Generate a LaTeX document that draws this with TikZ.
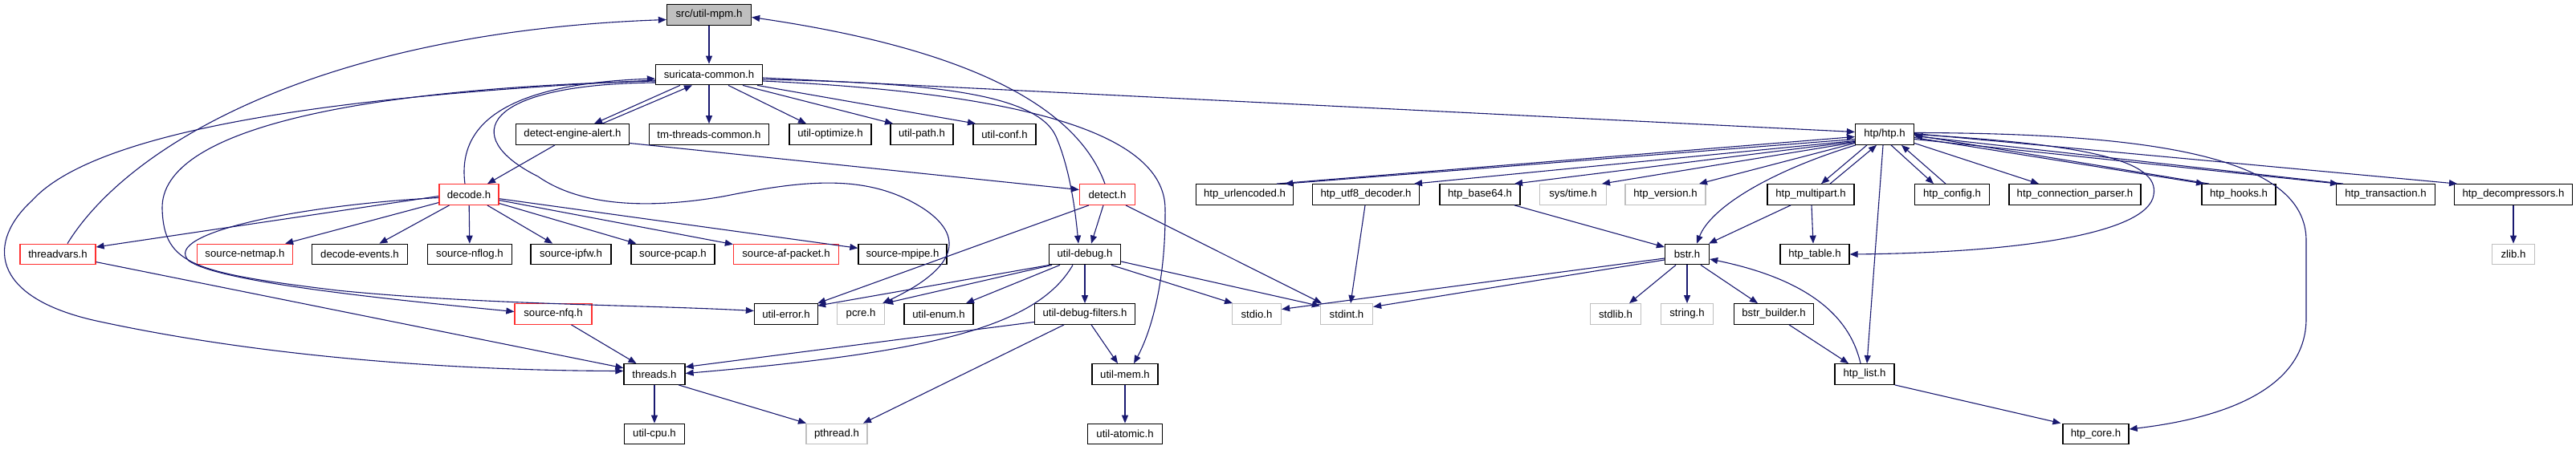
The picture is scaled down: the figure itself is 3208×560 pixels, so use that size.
\documentclass[tikz,border=0pt]{standalone}
\usepackage{fontspec}
\setmainfont{Liberation Sans}
\usetikzlibrary{arrows.meta}
\definecolor{eblue}{RGB}{25,25,112}
\definecolor{ngray}{RGB}{191,191,191}
\definecolor{nred}{RGB}{255,48,48}
\begin{document}
\begin{tikzpicture}[x=1pt,y=-1pt,
 box/.style={rectangle,draw=black,fill=white,line width=1.3pt,minimum height=25.5pt,inner sep=0pt,font=\fontsize{13.2}{15}\selectfont},
 nr/.style={box,draw=nred},
 ng/.style={box,draw=ngray},
 nm/.style={box,fill=ngray},
 edg/.style={draw=eblue,line width=1.1pt,-{Triangle[length=10pt,width=8pt]}}]
\useasboundingbox (0,0) rectangle (3208,560);
% row 1
\node[nm,minimum width=105pt] (mpm) at (883,18.5) {src/util-mpm.h};
% row 2
\node[box,minimum width=133pt] (sc) at (883,93) {suricata-common.h};
% row 3
\node[box,minimum width=141pt] (dea) at (713,167.5) {detect-engine-alert.h};
\node[box,minimum width=149pt] (tmc) at (883,167.5) {tm-threads-common.h};
\node[box,minimum width=102pt] (uopt) at (1034,167.5) {util-optimize.h};
\node[box,minimum width=78pt] (upath) at (1148,167.5) {util-path.h};
\node[box,minimum width=78pt] (uconf) at (1251,167.5) {util-conf.h};
\node[box,minimum width=73pt] (htp) at (2347,167.5) {htp/htp.h};
% row 4
\node[nr,minimum width=74pt] (decode) at (584,242.5) {decode.h};
\node[nr,minimum width=69pt] (detect) at (1379,242.5) {detect.h};
\node[box,minimum width=121pt] (urlenc) at (1550,242.5) {htp\_urlencoded.h};
\node[box,minimum width=133pt] (utf8) at (1701,242.5) {htp\_utf8\_decoder.h};
\node[box,minimum width=100pt] (b64) at (1843,242.5) {htp\_base64.h};
\node[ng,minimum width=83pt] (systime) at (1959,242.5) {sys/time.h};
\node[ng,minimum width=100pt] (hver) at (2074,242.5) {htp\_version.h};
\node[box,minimum width=108pt] (mpart) at (2255,242.5) {htp\_multipart.h};
\node[box,minimum width=93pt] (hcfg) at (2431,242.5) {htp\_config.h};
\node[box,minimum width=164pt] (hcp) at (2584,242.5) {htp\_connection\_parser.h};
\node[box,minimum width=92pt] (hooks) at (2788,242.5) {htp\_hooks.h};
\node[box,minimum width=123pt] (htx) at (2971,242.5) {htp\_transaction.h};
\node[box,minimum width=147pt] (hdec) at (3130,242.5) {htp\_decompressors.h};
% row 5
\node[nr,minimum width=94pt] (tv) at (72,317) {threadvars.h};
\node[nr,minimum width=119pt] (netmap) at (305,317) {source-netmap.h};
\node[box,minimum width=119pt] (devents) at (448,317) {decode-events.h};
\node[box,minimum width=105pt] (nflog) at (585,317) {source-nflog.h};
\node[box,minimum width=100pt] (ipfw) at (711,317) {source-ipfw.h};
\node[box,minimum width=104pt] (pcap) at (838,317) {source-pcap.h};
\node[nr,minimum width=131pt] (afp) at (979,317) {source-af-packet.h};
\node[box,minimum width=110pt] (mpipe) at (1124,317) {source-mpipe.h};
\node[box,minimum width=89pt] (udebug) at (1351,317) {util-debug.h};
\node[box,minimum width=55pt] (bstr) at (2101,317) {bstr.h};
\node[box,minimum width=86pt] (htable) at (2260,317) {htp\_table.h};
\node[ng,minimum width=53pt] (zlib) at (3130,317) {zlib.h};
% row 6
\node[nr,minimum width=96pt] (nfq) at (689,391.5) {source-nfq.h};
\node[box,minimum width=79pt] (uerr) at (979,391.5) {util-error.h};
\node[ng,minimum width=59pt] (pcre) at (1072,391.5) {pcre.h};
\node[box,minimum width=86pt] (uenum) at (1169,391.5) {util-enum.h};
\node[box,minimum width=125pt] (udf) at (1351,391.5) {util-debug-filters.h};
\node[ng,minimum width=61pt] (stdio) at (1565,391.5) {stdio.h};
\node[ng,minimum width=65pt] (stdint) at (1677,391.5) {stdint.h};
\node[ng,minimum width=63pt] (stdlib) at (2012,391.5) {stdlib.h};
\node[ng,minimum width=65pt] (string) at (2101,391.5) {string.h};
\node[box,minimum width=99pt] (bbuild) at (2209,391.5) {bstr\_builder.h};
% row 7
\node[box,minimum width=76pt] (threads) at (815,466.5) {threads.h};
\node[box,minimum width=82pt] (umem) at (1401,466.5) {util-mem.h};
\node[box,minimum width=74pt] (hlist) at (2322,466.5) {htp\_list.h};
% row 8
\node[box,minimum width=75pt] (ucpu) at (815,541) {util-cpu.h};
\node[ng,minimum width=76pt] (pthread) at (1042,541) {pthread.h};
\node[box,minimum width=93pt] (uatomic) at (1401,541) {util-atomic.h};
\node[box,minimum width=82pt] (hcore) at (2610,541) {htp\_core.h};

% ---- edges ----
\draw[edg] (mpm) -- (sc);
\draw[edg] ([xshift=12pt]tv.north) .. controls (160,180) and (400,40) .. ([yshift=-6pt]mpm.west);
\draw[edg] ([xshift=-3pt]detect.north) .. controls (1340,130) and (1200,60) .. ([yshift=-3pt]mpm.east);
\draw[edg] (sc) -- (tmc);
\draw[edg] ([xshift=24pt]sc.south) -- ([xshift=-30pt]uopt.north);
\draw[edg] ([xshift=42pt]sc.south) -- ([xshift=-36pt]upath.north);
\draw[edg] ([xshift=60pt]sc.south) -- ([xshift=-36pt]uconf.north);
\draw[edg] ([yshift=-4pt]sc.east) -- ([yshift=3pt]htp.west);
\draw[edg] ([xshift=-36pt]sc.south) -- ([xshift=27pt]dea.north);
\draw[edg] ([xshift=37pt]dea.north) -- ([xshift=-21pt]sc.south);
\draw[edg] ([yshift=-6pt]sc.east) .. controls (1150,103) and (1290,115) .. (1315,170) .. controls (1330,205) and (1338,250) .. ([xshift=-8pt]udebug.north);
\draw[edg] ([yshift=-8pt]sc.east) .. controls (1250,115) and (1450,160) .. (1451,260) .. controls (1452,360) and (1430,420) .. ([xshift=11pt]umem.north);
\draw[edg] ([yshift=-7pt]sc.west) .. controls (500,115) and (130,150) .. (40,250) .. controls (-15,300) and (-15,370) .. (120,400) .. controls (350,450) and (600,462) .. ([yshift=4pt]threads.west);
\draw[edg] ([yshift=-8pt]sc.west) .. controls (450,110) and (200,160) .. (202,260) .. controls (204,330) and (240,340) .. (420,362) .. controls (600,380) and (800,380) .. ([yshift=4pt]uerr.west);
\draw[edg] ([yshift=-10pt]sc.west) .. controls (600,105) and (570,170) .. (670,220) .. controls (720,255) and (800,262) .. (900,245) .. controls (1000,225) and (1080,215) .. (1150,260) .. controls (1210,300) and (1180,340) .. ([xshift=-3pt]pcre.north east);
\draw[edg] ([xshift=-5pt]decode.north) .. controls (570,160) and (620,105) .. ([yshift=-5pt]sc.west);
\draw[edg] ([xshift=-22pt]dea.south) -- ([xshift=23pt]decode.north);
\draw[edg] ([yshift=-11pt]dea.east) -- ([yshift=6pt]detect.west);
% decode fan
\draw[edg] ([yshift=-2pt]decode.west) -- ([yshift=9pt]tv.east);
\draw[edg] ([yshift=-4pt]decode.west) .. controls (380,255) and (200,290) .. (235,325) .. controls (270,350) and (450,370) .. ([yshift=3pt]nfq.west);
\draw[edg] (decode) -- (netmap);
\draw[edg] (decode) -- (devents);
\draw[edg] (decode) -- (nflog);
\draw[edg] (decode) -- (ipfw);
\draw[edg] (decode) -- (pcap);
\draw[edg] (decode) -- (afp);
\draw[edg] (decode) -- (mpipe);
\draw[edg] (tv) -- (threads);
\draw[edg] (nfq) -- (threads);
% detect
\draw[edg] ([xshift=-5pt]detect.south) -- ([xshift=8pt]udebug.north);
\draw[edg] ([xshift=-23pt]detect.south) -- ([xshift=-1pt]uerr.north east);
\draw[edg] ([xshift=23pt]detect.south) -- ([xshift=-31pt]stdint.north);
% util-debug
\draw[edg] ([xshift=1pt]udebug.south west) -- ([xshift=-1pt,yshift=-3pt]uerr.north east);
\draw[edg] ([xshift=-41pt]udebug.south) -- (pcre.north east);
\draw[edg] ([xshift=-31pt]udebug.south) -- ([xshift=34pt]uenum.north);
\draw[edg] (udebug) -- (udf);
\draw[edg] ([xshift=-15pt]udebug.south) .. controls (1290,410) and (1150,440) .. ([yshift=1pt]threads.east);
\draw[edg] ([xshift=33pt]udebug.south) -- ([xshift=-30pt]stdio.north);
\draw[edg] ([yshift=-9pt]udebug.east) -- ([yshift=10pt]stdint.west);
\draw[edg] ([yshift=-10pt]udf.west) -- ([yshift=9pt]threads.east);
\draw[edg] ([xshift=-26pt]udf.south) -- ([xshift=33pt]pthread.north);
\draw[edg] ([xshift=8pt]udf.south) -- ([xshift=-9pt]umem.north);
\draw[edg] (umem) -- (uatomic);
\draw[edg] (threads) -- (ucpu);
\draw[edg] ([xshift=30pt]threads.south) -- ([xshift=-38pt]pthread.north);
% htp
\draw[edg] ([yshift=-6pt]htp.west) -- ([xshift=50pt]urlenc.north);
\draw[edg] ([xshift=40pt]urlenc.north) -- ([yshift=-3pt]htp.west);
\draw[edg] ([yshift=-8pt]htp.west) -- ([xshift=60pt]utf8.north);
\draw[edg] ([yshift=-9pt]htp.west) -- ([xshift=43pt]b64.north);
\draw[edg] ([yshift=-10pt]htp.west) -- ([xshift=36pt]systime.north);
\draw[edg] ([yshift=-11pt]htp.west) -- ([xshift=42pt]hver.north);
\draw[edg] ([xshift=1pt]htp.south west) .. controls (2200,215) and (2130,260) .. ([xshift=12pt]bstr.north);
\draw[edg] ([xshift=-22pt]htp.south) -- ([xshift=13pt]mpart.north);
\draw[edg] ([xshift=24pt]mpart.north) -- ([xshift=-10pt]htp.south);
\draw[edg] ([xshift=-2pt]htp.south) -- ([xshift=3pt]hlist.north);
\draw[edg] ([xshift=8pt]htp.south) -- ([xshift=-23pt]hcfg.north);
\draw[edg] ([xshift=-8pt]hcfg.north) -- ([xshift=21pt]htp.south);
\draw[edg] ([yshift=-11pt]htp.east) -- ([xshift=-45pt]hcp.north);
\draw[edg] ([yshift=-4pt]htp.east) -- ([xshift=-43pt]hooks.north);
\draw[edg] ([xshift=-37pt]hooks.north) -- ([yshift=-1pt]htp.east);
\draw[edg] ([yshift=-6pt]htp.east) -- ([xshift=-59pt]htx.north);
\draw[edg] ([xshift=-53pt]htx.north) -- ([yshift=-2pt]htp.east);
\draw[edg] ([yshift=1pt]htp.east) -- ([xshift=-70pt]hdec.north);
\draw[edg] ([yshift=0pt]htp.east) .. controls (2600,180) and (2690,200) .. (2682,243) .. controls (2675,290) and (2520,315) .. (htable.east);
\draw[edg] ([yshift=2pt]htp.east) .. controls (2700,166) and (2872,200) .. (2872,300) -- (2872,397) .. controls (2872,480) and (2780,520) .. ([yshift=6pt]hcore.east);
\draw[edg] (hdec) -- (zlib);
\draw[edg] ([xshift=-1pt]utf8.south) -- ([xshift=5pt]stdint.north);
\draw[edg] ([xshift=43pt]b64.south) -- ([yshift=9pt]bstr.west);
\draw[edg] ([xshift=-25pt]mpart.south) -- ([xshift=27pt]bstr.north);
\draw[edg] ([xshift=1pt]mpart.south) -- ([xshift=-2pt]htable.north);
\draw[edg] ([xshift=-14pt]bstr.south) -- ([xshift=17pt]stdlib.north);
\draw[edg] (bstr) -- (string);
\draw[edg] ([xshift=17pt]bstr.south) -- ([xshift=-20pt]bbuild.north);
\draw[edg] ([yshift=-5pt]bstr.west) -- ([yshift=6pt]stdio.east);
\draw[edg] ([yshift=-7pt]bstr.west) -- ([yshift=9pt]stdint.east);
\draw[edg] ([xshift=19pt]bbuild.south) -- ([xshift=-20pt]hlist.north);
\draw[edg] ([xshift=-5pt]hlist.north) .. controls (2305,400) and (2260,350) .. ([yshift=-6pt]bstr.east);
\draw[edg] (hlist.south east) -- ([xshift=-2pt]hcore.north west);
\end{tikzpicture}
\end{document}
